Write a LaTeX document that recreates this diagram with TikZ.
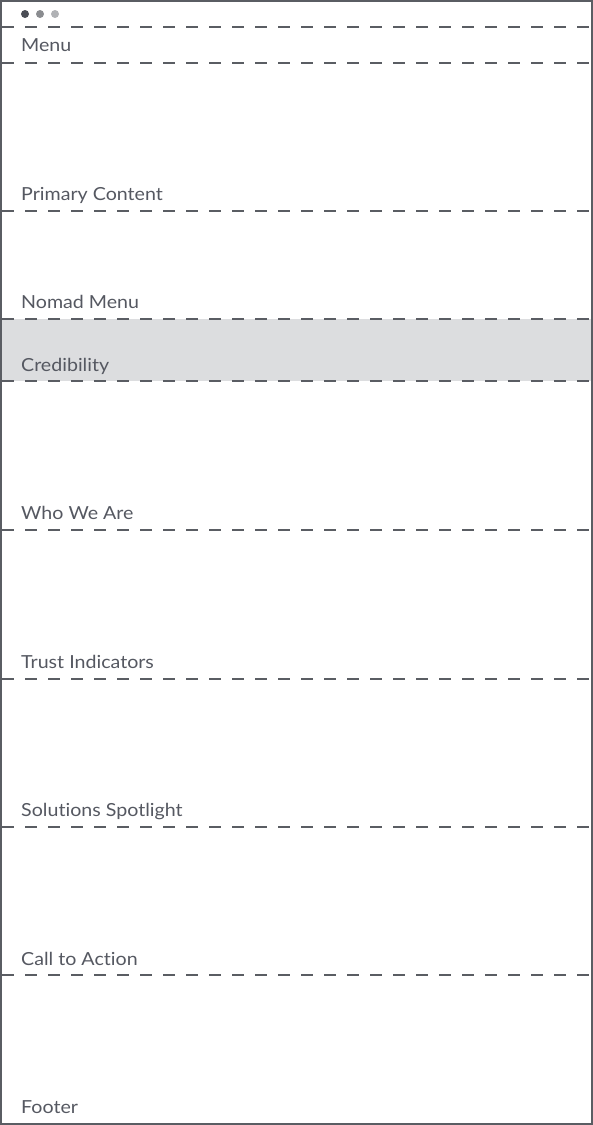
\documentclass[tikz,border=0pt]{standalone}
\usepackage{fontspec}
\setmainfont{Lato}[Ligatures=NoCommon, FakeStretch=1.09]
\usetikzlibrary{positioning,calc}
\definecolor{framegray}{HTML}{5A5D63}
\definecolor{labelgray}{HTML}{555861}
\definecolor{bandgray}{HTML}{DCDDDF}
\definecolor{dotdark}{HTML}{4A4D55}
\definecolor{dotmid}{HTML}{8A8C90}
\definecolor{dotlight}{HTML}{B0B2B5}
\tikzset{
  frame/.style     = {draw=framegray, line width=2pt},
  divider/.style   = {draw=framegray, line width=1.8pt, dash pattern=on 12pt off 11pt},
  sectlabel/.style = {anchor=base west, inner sep=0pt, text=labelgray,
                      font=\fontsize{18}{20}\selectfont},
  windot/.style    = {circle, inner sep=0pt, minimum size=8pt}
}
\newcommand{\DrawSection}[4]{%
  % label sits just above the dashed divider
  \node[sectlabel] (#1) at (21,#3) {#4};
  % dashed divider across the page
  \coordinate (#1-l) at (2,#2);
  \coordinate (#1-r) at (591,#2);
  \draw[divider] (#1-l) -- (#1-r);
}

\begin{document}
\begin{tikzpicture}[x=1pt,y=-1pt]
    \useasboundingbox (0,0) rectangle (593,1125);

    % highlighted band (credibility)
    \fill[bandgray] (2,319) rectangle (591,381);

    % window dots
    \node[windot, fill=dotdark]  (dot1) at (25,14) {};
    \node[windot, fill=dotmid]   (dot2) at (40,14) {};
    \node[windot, fill=dotlight] (dot3) at (55,14) {};

    % top divider
    \coordinate (top-l) at (2,27);
    \coordinate (top-r) at (591,27);
    \draw[divider] (top-l) -- (top-r);

    \DrawSection{menu}{63}{51}{Menu}
    \DrawSection{primary}{211}{200}{Primary Content}
    \DrawSection{nomad}{319}{308}{Nomad Menu}
    \DrawSection{cred}{381}{371}{Credibility}
    \DrawSection{who}{530}{519}{Who We Are}
    \DrawSection{trust}{679}{668}{Trust Indicators}
    \DrawSection{solutions}{827}{816}{Solutions Spotlight}
    \DrawSection{cta}{975}{965}{Call to Action}

    % footer has no divider under it
    \node[sectlabel] (footer) at (21,1113) {Footer};

    % outer page frame
    \draw[frame] (1,1) rectangle (592,1124);
  \end{tikzpicture}
\end{document}
